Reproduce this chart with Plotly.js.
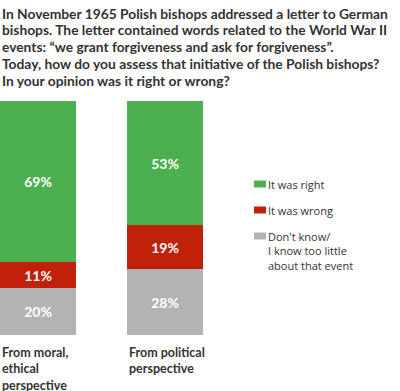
<!DOCTYPE html>
<html>
<head>
<meta charset="utf-8">
<script src="https://cdn.plot.ly/plotly-3.0.1.min.js"></script>
<style>html,body{margin:0;padding:0;background:#fff;}#chart{width:400px;height:391px;}</style>
</head>
<body>
<div id="chart"></div>
<script>
const categories = ["moral", "political"];
const categoryLabels = ["From moral,<br>ethical<br>perspective", "From political<br>perspective"];
const seriesNames = ["Don't know/<br>I know too little<br>about that event", "It was wrong", "It was right"];
const dontKnow = [20, 28];
const wrong = [11, 19];
const right = [69, 53];
const colors = ["#b3b3b3", "#c1210b", "#4caf50"];
const titleLines = [
  "In November 1965 Polish bishops addressed a letter to German",
  "bishops. The letter contained words related to the World War II",
  "events: “we grant forgiveness and ask for forgiveness”.",
  "Today, how do you assess that initiative of the Polish bishops?",
  "In your opinion was it right or wrong?"
];

const FONT = "Lato, 'Open Sans', sans-serif";
const LFONT = "'Open Sans', Lato, sans-serif";
const seriesValues = [dontKnow, wrong, right];
const xIdx = categories.map((c, i) => i);
const BW = 0.6;
const PLOT_TOP = 101, PLOT_BOTTOM = 335;
const py = p => (PLOT_BOTTOM - p) / (PLOT_BOTTOM - PLOT_TOP);
const px = p => p / 400;

const traces = seriesValues.map((vals, k) => ({
  type: "bar",
  x: xIdx,
  y: vals,
  name: seriesNames[k],
  width: BW,
  marker: {color: colors[k], line: {width: 0}},
  text: vals.map(v => v + "%"),
  texttemplate: "%{text}",
  textposition: "inside",
  insidetextanchor: "middle",
  textangle: 0,
  textfont: {family: FONT, size: 14, color: "#ffffff", weight: 700},
  hoverinfo: "none",
  showlegend: false
}));

const annotations = [];
titleLines.forEach((t, i) => annotations.push({
  x: 0, xref: "paper", y: py(13.3 + i * 16.7), yref: "paper",
  xanchor: "left", yanchor: "middle", showarrow: false, align: "left",
  text: t,
  font: {family: FONT, size: 13.8, color: "#333333", weight: 700}
}));
categoryLabels.forEach((t, i) => annotations.push({
  x: i - BW / 2, xref: "x",
  y: py(342.5), yref: "paper",
  xanchor: "left", yanchor: "top", align: "left", showarrow: false,
  text: t,
  font: {family: FONT, size: 12.5, color: "#333333", weight: 700}
}));

// manual legend (top to bottom: right, wrong, don't know)
const legendOrder = [2, 1, 0];
const legendY = [184, 210, 236];
const shapes = [];
legendOrder.forEach((k, j) => {
  shapes.push({
    type: "rect", xref: "paper", yref: "paper",
    x0: px(254), x1: px(266), y0: py(legendY[j] - 3.5), y1: py(legendY[j] + 3.5),
    fillcolor: colors[k], line: {width: 0}
  });
  annotations.push({
    x: px(266), xref: "paper", y: py(legendY[j] - 9.5), yref: "paper",
    xanchor: "left", yanchor: "top", align: "left", showarrow: false,
    text: seriesNames[k],
    font: {family: LFONT, size: 11, color: "#333333"}
  });
});

const layout = {
  width: 400,
  height: 391,
  margin: {l: 0, r: 0, t: PLOT_TOP, b: 391 - PLOT_BOTTOM, pad: 0},
  paper_bgcolor: "#ffffff",
  plot_bgcolor: "#ffffff",
  barmode: "stack",
  showlegend: false,
  xaxis: {
    range: [-BW / 2, -BW / 2 + 400 / 127],
    showgrid: false, zeroline: false, showticklabels: false, showline: false, fixedrange: true
  },
  yaxis: {
    range: [0, 100],
    showgrid: false, zeroline: false, showticklabels: false, showline: false, fixedrange: true
  },
  annotations: annotations,
  shapes: shapes
};

Plotly.newPlot("chart", traces, layout, {displayModeBar: false, staticPlot: true});
</script>
</body>
</html>
